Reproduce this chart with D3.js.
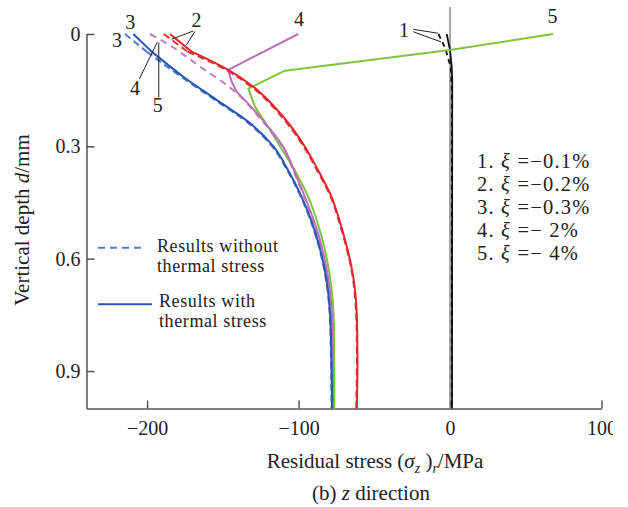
<!DOCTYPE html>
<html>
<head>
<meta charset="utf-8">
<script src="https://cdn.jsdelivr.net/npm/d3@7"></script>
<style>
  body { margin: 0; background: #fff; }
  text { font-family: "Liberation Serif", "Times New Roman", Times, serif; fill: #222; }
</style>
</head>
<body>
<div id="chart"></div>
<script>
const xTicks = [-200, -100, 0, 100];
const yTicks = [0, 0.3, 0.6, 0.9];

// 1. xi = -0.1%
const depth1With = [0, 0.043, 0.087, 0.123, 1.0];
const stress1With = [-2.2, 0, 1.1, 1.45, 1.3];
const depth1Without = [0, 0.04, 0.09, 0.15, 1.0];
const stress1Without = [-7.6, -3, 0.5, 1.2, 1.1];

// 2. xi = -0.2%
const depth2 = [0, 0.047, 0.096, 0.141, 0.221, 0.301, 0.363, 0.425, 0.532, 0.648, 0.782, 0.87, 1.0];
const stress2With = [-184.9, -170.6, -146.4, -129.9, -110.1, -95.8, -87.2, -79.3, -70.5, -63.9, -61.3, -61.1, -61.5];
const stress2Without = [-189, -173.3, -147.8, -131.1, -111.1, -96.6, -87.9, -79.9, -71, -64.3, -61.7, -61.5, -61.9];

// 3. xi = -0.3%
const depth3 = [0, 0.047, 0.114, 0.176, 0.238, 0.299, 0.363, 0.425, 0.541, 0.648, 0.782, 1.0];
const stress3With = [-209.1, -197, -176.1, -154.1, -132.1, -116.9, -107, -99.1, -88.1, -81.9, -78.8, -77.9];
const stress3Without = [-214.6, -200.3, -177.6, -155.3, -133.1, -117.7, -107.6, -99.6, -88.5, -82.2, -79.1, -78.2];

// 4. xi = -2%
const depth4With = [0, 0.096, 0.127, 0.154, 0.221, 0.301, 0.381, 0.541, 0.648, 0.782, 1.0];
const stress4With = [-100.2, -146.4, -144.2, -140.9, -125.5, -110.1, -101.3, -86.5, -80.6, -77.7, -77.2];
const depth4Without = [0, 0.025, 0.087, 0.15, 0.221, 0.301, 0.381, 0.541, 0.648, 0.782, 1.0];
const stress4Without = [-198.1, -187.1, -165.1, -143.1, -126.3, -110.7, -101.8, -87, -81, -78, -77.5];

// 5. xi = -4%
const depth5 = [0, 0.043, 0.098, 0.146, 0.194, 0.256, 0.328, 0.381, 0.425, 0.541, 0.648, 0.782, 1.0];
const stress5With = [68, -0.2, -109, -133.2, -128.8, -118.9, -107.9, -100.2, -94.7, -84.8, -79.3, -76.6, -76.4];

const refDepth = [-0.072, 1.0];
const refStress = [0, 0];

const xiNames = ['1', '2', '3', '4', '5'];
const xiValues = ['\u22120.1%', '\u22120.2%', '\u22120.3%', '\u2212 2%', '\u2212 4%'];
const legendNames = [['Results without', 'thermal stress'], ['Results with', 'thermal stress']];

// curve labels and leader lines, in data units
const labelText = ['1', '2', '3', '3', '4', '4', '5', '5'];
const labelStress = [-30.4, -167.3, -211.1, -219.9, -99.7, -208.0, -193.0, 67.6];
const labelDepth = [-0.011, -0.037, -0.031, 0.015, -0.040, 0.145, 0.19, -0.048];
const leaderFrom = [[-24.3, -0.0125], [-24.3, -0.006], [-169.5, -0.008], [-168.4, -0.007], [-205.1, 0.12], [-192.3, 0.169]];
const leaderTo = [[-7.8, -0.002], [-6.0, 0.021], [-183.8, 0.014], [-174.0, 0.029], [-193.3, 0.022], [-192.3, 0.023]];

const options = {
  width: 628,
  height: 507,
  left: 86.5,
  right: 601.5,
  top: 34,
  bottom: 408.5,
};

const svg = d3.select('#chart')
  .append('svg')
  .attr('width', options.width)
  .attr('height', options.height);

svg.append('clipPath')
  .attr('id', 'page-clip')
  .append('rect')
  .attr('width', 613)
  .attr('height', options.height);

const x = d3.scaleLinear()
  .domain([-240, 100])
  .range([options.left, options.right]);

const y = d3.scaleLinear()
  .domain([0, 1])
  .range([options.top, options.bottom]);

const xAxis = d3.axisBottom(x)
  .tickValues(xTicks)
  .tickSizeInner(-8)
  .tickSizeOuter(0)
  .tickPadding(12)
  .tickFormat(d3.format('d'));

const yAxis = d3.axisLeft(y)
  .tickValues(yTicks)
  .tickSizeInner(-8)
  .tickSizeOuter(0)
  .tickPadding(6)
  .tickFormat(d => (d === 0 ? '0' : d3.format('.1f')(d)));

const gx = svg.append('g')
  .attr('class', 'x axis')
  .attr('clip-path', 'url(#page-clip)')
  .append('g')
  .attr('transform', `translate(0,${options.bottom})`)
  .call(xAxis);

const gy = svg.append('g')
  .attr('class', 'y axis')
  .attr('transform', `translate(${options.left},0)`)
  .call(yAxis);

[gx, gy].forEach((g) => {
  g.attr('font-family', null).attr('font-size', null);
  g.select('.domain').attr('stroke', '#555').attr('stroke-width', 1.5);
  g.selectAll('.tick line').attr('stroke', '#555').attr('stroke-width', 1.5);
  g.selectAll('.tick text').style('font-size', '20px').attr('fill', '#222');
});

const straight = d3.line()
  .x(d => x(d[0]))
  .y(d => y(d[1]));

const smooth = d3.line()
  .x(d => x(d[0]))
  .y(d => y(d[1]))
  .curve(d3.curveMonotoneY);

// straight segments down to the knee, smooth arc below it
const curvePath = (pts, knee) => {
  const head = knee > 0 ? straight(pts.slice(0, knee + 1)) : '';
  const tail = knee < pts.length - 1 ? smooth(pts.slice(knee)) : '';
  return head + tail;
};

const zip = (s, dd) => s.map((v, i) => [v, dd[i]]);

const curves = [
  { pts: zip(refStress, refDepth), knee: 1, color: '#8a8a8a', width: 1.5, dash: null },
  { pts: zip(stress1Without, depth1Without), knee: 4, color: '#111', width: 1.8, dash: '5,4' },
  { pts: zip(stress1With, depth1With), knee: 4, color: '#111', width: 1.8, dash: null },
  { pts: zip(stress5With, depth5), knee: 4, color: '#7fc53c', width: 2, dash: null },
  { pts: zip(stress4Without, depth4Without), knee: 0, color: '#c27cc4', width: 2, dash: '7,5' },
  { pts: zip(stress4With, depth4With), knee: 3, color: '#b870b8', width: 2, dash: null },
  { pts: zip(stress3Without, depth3), knee: 1, color: '#4f7ccc', width: 2, dash: '7,4' },
  { pts: zip(stress3With, depth3), knee: 1, color: '#2a55b0', width: 2, dash: null },
  { pts: zip(stress2Without, depth2), knee: 1, color: '#e8333a', width: 2, dash: '7,4' },
  { pts: zip(stress2With, depth2), knee: 1, color: '#e3262c', width: 2, dash: null },
];

svg.append('g')
  .attr('class', 'curves')
  .selectAll('path')
  .data(curves)
  .enter()
  .append('path')
  .attr('d', d => curvePath(d.pts, d.knee))
  .attr('fill', 'none')
  .attr('stroke', d => d.color)
  .attr('stroke-width', d => d.width)
  .attr('stroke-linejoin', 'round')
  .attr('stroke-dasharray', d => d.dash);

// leader lines + numbers
svg.append('g')
  .selectAll('line')
  .data(leaderFrom)
  .enter()
  .append('line')
  .attr('x1', d => x(d[0]))
  .attr('y1', d => y(d[1]))
  .attr('x2', (d, i) => x(leaderTo[i][0]))
  .attr('y2', (d, i) => y(leaderTo[i][1]))
  .attr('stroke', '#222')
  .attr('stroke-width', 1);

svg.append('g')
  .selectAll('text')
  .data(labelText)
  .enter()
  .append('text')
  .attr('x', (d, i) => x(labelStress[i]))
  .attr('y', (d, i) => y(labelDepth[i]))
  .attr('text-anchor', 'middle')
  .attr('dominant-baseline', 'central')
  .style('font-size', '20px')
  .text(d => d);

// left legend
const legend = svg.append('g').attr('class', 'legend');
const legendY = [247.7, 304.3];
const legendText = [[252, 272], [306.5, 326.5]];
legend.selectAll('line')
  .data(legendNames)
  .enter()
  .append('line')
  .attr('x1', 98)
  .attr('x2', (d, i) => (i === 0 ? 146 : 152))
  .attr('y1', (d, i) => legendY[i])
  .attr('y2', (d, i) => legendY[i])
  .attr('stroke', (d, i) => (i === 0 ? '#4f7ccc' : '#2a55b0'))
  .attr('stroke-width', 2)
  .attr('stroke-dasharray', (d, i) => (i === 0 ? '7,5' : null));

legendNames.forEach((rows, i) => {
  rows.forEach((r, j) => {
    legend.append('text')
      .attr('x', i === 0 ? 157 : 159)
      .attr('y', legendText[i][j])
      .style('font-size', '18px')
      .style('letter-spacing', '0.6px')
      .text(r);
  });
});

// right legend
const xiLegend = svg.append('g').attr('class', 'xi-legend');
xiNames.forEach((n, i) => {
  const t = xiLegend.append('text')
    .attr('x', 477)
    .attr('y', 167.5 + i * 23.1)
    .style('font-size', '20.5px')
    .style('letter-spacing', '1.2px');
  t.append('tspan').text(`${n}. `);
  t.append('tspan').style('font-style', 'italic').text('\u03be');
  t.append('tspan').text(` =${xiValues[i]}`);
});

// axis titles
const xt = svg.append('text')
  .attr('x', 375)
  .attr('y', 468)
  .attr('text-anchor', 'middle')
  .style('font-size', '21px');
xt.append('tspan').text('Residual stress (');
xt.append('tspan').style('font-style', 'italic').text('\u03c3');
xt.append('tspan').style('font-style', 'italic').style('font-size', '14px').attr('dy', 5).text('z');
xt.append('tspan').attr('dy', -5).text(' )');
xt.append('tspan').style('font-style', 'italic').style('font-size', '14px').attr('dy', 5).text('r');
xt.append('tspan').attr('dy', -5).text('/MPa');

const yt = svg.append('text')
  .attr('transform', 'translate(29,220) rotate(-90)')
  .attr('text-anchor', 'middle')
  .style('font-size', '21px');
yt.append('tspan').text('Vertical depth ');
yt.append('tspan').style('font-style', 'italic').text('d');
yt.append('tspan').text('/mm');

const cap = svg.append('text')
  .attr('x', 371)
  .attr('y', 500)
  .attr('text-anchor', 'middle')
  .style('font-size', '21px');
cap.append('tspan').text('(b) ');
cap.append('tspan').style('font-style', 'italic').text('z');
cap.append('tspan').text(' direction');
</script>
</body>
</html>
